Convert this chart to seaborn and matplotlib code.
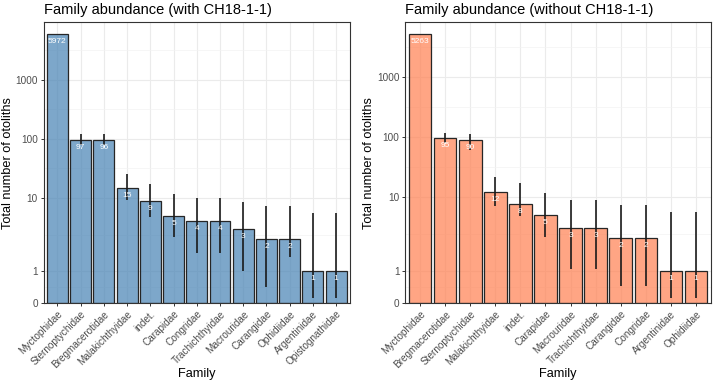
import numpy as np
import pandas as pd
import matplotlib
matplotlib.use("Agg")
import matplotlib.pyplot as plt
import seaborn as sns
from matplotlib.colors import to_rgba
from matplotlib.scale import SymmetricalLogTransform
from matplotlib.ticker import FixedLocator, NullFormatter

nan = np.nan

# ---- data: with CH18-1-1 ----
fam_with = ["Myctophidae", "Sternoptychidae", "Bregmacerotidae", "Malakichthyidae",
            "indet.", "Carapidae", "Congridae", "Trachichthyidae", "Macrouridae",
            "Carangidae", "Ophidiidae", "Argentinidae", "Opistognathidae"]
count_with = [5972, 97, 96, 15, 9, 5, 4, 4, 3, 2, 2, 1, 1]
label_with = ["5972", "97", "96", "15", "9", "5", "4", "4", "3", "2", "2", "1", "1"]
lo_with = [nan, 79, 79, 9.25, 4.8, 2.16, 1.56, 1.56, 1.01, 0.52, 1.45, 0.16, 0.16]
hi_with = [nan, 120, 120, 25.5, 17.3, 11.7, 10.0, 10.0, 8.65, 7.3, 7.3, 5.64, 5.64]

# ---- data: without CH18-1-1 ----
fam_without = ["Myctophidae", "Bregmacerotidae", "Sternoptychidae", "Malakichthyidae",
               "indet.", "Carapidae", "Macrouridae", "Trachichthyidae", "Carangidae",
               "Congridae", "Argentinidae", "Ophidiidae"]
count_without = [5263, 95, 90, 12, 7.5, 5, 3, 3, 2, 2, 1, 1]
label_without = ["5263", "95", "90", "12", "8", "5", "3", "3", "2", "2", "1", "1"]
lo_without = [nan, 78.8, 60.8, 7.0, 4.83, 2.15, 1.05, 1.05, 0.55, 0.55, 0.18, 0.18]
hi_without = [nan, 116, 111, 21.2, 17.2, 11.7, 8.85, 8.85, 7.3, 7.3, 5.64, 5.64]

y_ticks = [0, 1, 10, 100, 1000]
y_ticklabels = ["0", "1", "10", "100", "1000"]

sns.set_style("white")
plt.rcParams['font.family'] = ['Liberation Sans', 'DejaVu Sans']

LINTHRESH = 2
LINSCALE = 0.979
tr = SymmetricalLogTransform(10, LINTHRESH, LINSCALE)
tt = tr.transform(np.array(y_ticks + [10000], dtype=float))
mids = tr.inverted().transform((tt[:-1] + tt[1:]) / 2)

fig = plt.figure(figsize=(7.14, 3.84), dpi=100)
W, H = 714, 384


def panel(rect, fams, counts, labels, lo, hi, color, title, top):
    ax = fig.add_axes(rect)
    df = pd.DataFrame({"Family": fams, "Count": counts})
    sns.barplot(data=df, x="Family", y="Count", order=fams, color=color,
                saturation=1, width=0.9, edgecolor="#262626", linewidth=0.9,
                errorbar=None, ax=ax, zorder=2)
    for p in ax.patches:
        p.set_facecolor(to_rgba(color, 0.7))
    x = np.arange(len(fams))
    lo_a = np.array(lo, dtype=float)
    hi_a = np.array(hi, dtype=float)
    ok = ~np.isnan(lo_a)
    ax.vlines(x[ok], lo_a[ok], hi_a[ok], color="#1a1a1a", lw=1.2, zorder=4)
    for i, (v, lb) in enumerate(zip(counts, labels)):
        ax.annotate(lb, (i, v), xytext=(0, -5.4), textcoords="offset points",
                    ha="center", va="center", color="white", fontsize=6,
                    zorder=5)
    ax.set_yscale("symlog", linthresh=LINTHRESH, linscale=LINSCALE)
    ax.set_ylim(0, top)
    ax.set_xlim(-0.6, len(fams) - 0.4)
    ax.set_yticks(y_ticks)
    ax.set_yticklabels(y_ticklabels)
    ax.yaxis.set_minor_locator(FixedLocator(mids))
    ax.yaxis.set_minor_formatter(NullFormatter())
    ax.tick_params(axis="y", which="minor", length=0)
    ax.set_axisbelow(True)
    ax.grid(which="major", color="#EBEBEB", lw=0.8, zorder=0)
    ax.grid(which="minor", axis="y", color="#F2F2F2", lw=0.45, zorder=0)
    for s in ax.spines.values():
        s.set_color("#333333")
        s.set_linewidth(0.8)
        s.set_visible(True)
    ax.tick_params(axis="both", which="major", length=2.5, width=0.7,
                   color="#333333", labelcolor="#4D4D4D", labelsize=7.2, pad=1.5,
                   left=True, bottom=True)
    plt.setp(ax.get_xticklabels(), rotation=45, ha="right", va="top",
             rotation_mode="anchor")
    ax.set_xlabel("Family", fontsize=9.2, color="black")
    ax.xaxis.set_label_coords(0.5, -0.228)
    ax.xaxis.label.set_va("top")
    ax.set_ylabel("Total number of otoliths", fontsize=9.2, color="black")
    ax.yaxis.set_label_coords(-0.097, 0.5)
    ax.set_title(title, loc="left", fontsize=10.5, pad=6, color="black")
    return ax


bottom = 1 - 303.4 / H
height = (303.4 - 22) / H
panel([43.5 / W, bottom, 306.5 / W, height], fam_with, count_with, label_with,
      lo_with, hi_with, "steelblue", "Family abundance (with CH18-1-1)", 9617)
panel([405 / W, bottom, 306 / W, height], fam_without, count_without, label_without,
      lo_without, hi_without, "coral", "Family abundance (without CH18-1-1)", 8434)

fig.savefig("out.png", dpi=100)
